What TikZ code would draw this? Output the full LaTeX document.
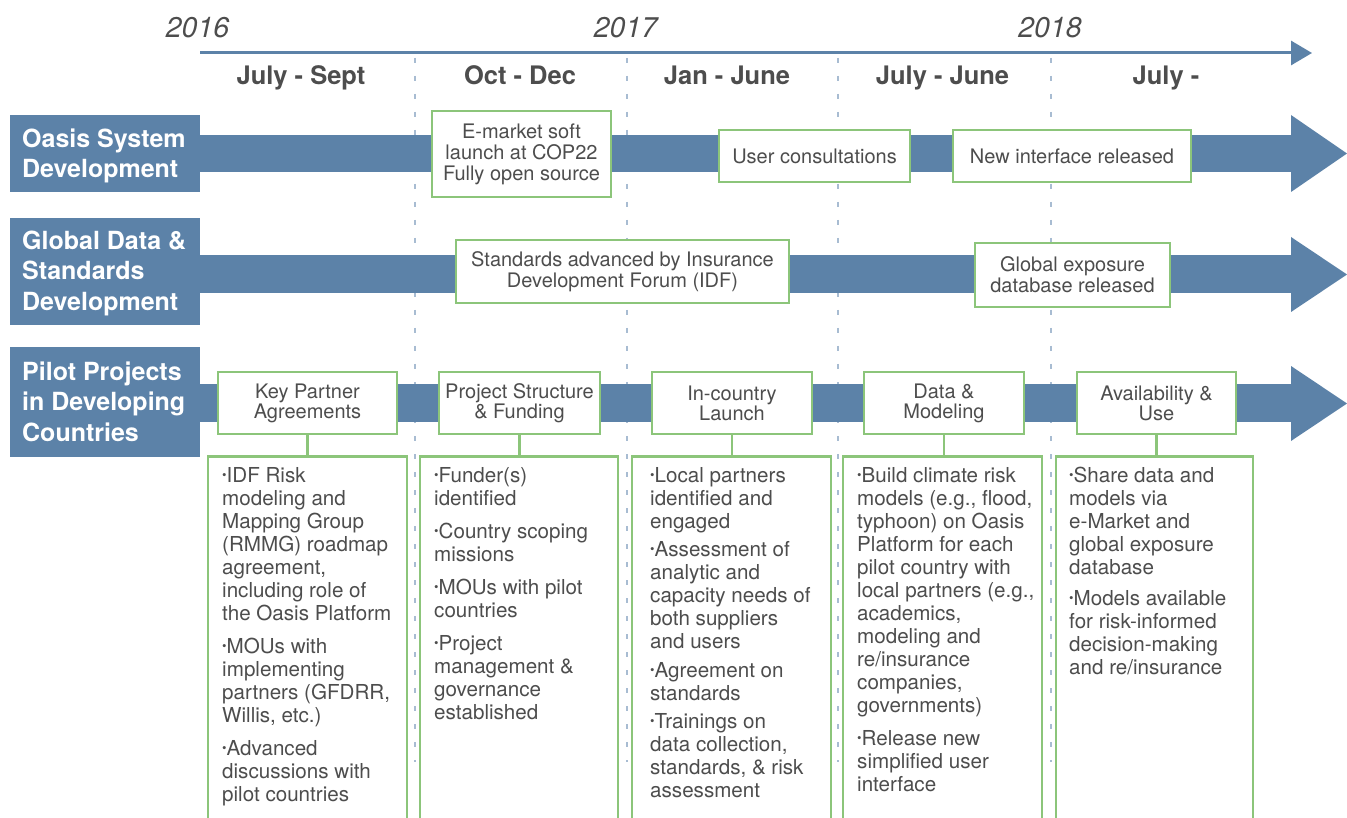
\documentclass[tikz,border=0pt]{standalone}
\usepackage{fontspec}
\usepackage{graphicx}
\setmainfont{TeX Gyre Heros}
\usetikzlibrary{arrows.meta}
\definecolor{oblue}{RGB}{92,130,168}
\definecolor{ogreen}{RGB}{140,197,122}
\definecolor{otext}{RGB}{77,77,77}
\definecolor{odash}{RGB}{168,188,210}
\newcommand{\bul}{\raisebox{0.14em}{\scalebox{0.62}{•}}}
\begin{document}
\begin{tikzpicture}[x=1pt,y=-1pt,
  every node/.style={inner sep=0pt, text=otext},
  rowbox/.style={fill=oblue, minimum width=190pt},
  rowtext/.style={text=white, font=\fontsize{25}{30.5}\selectfont\bfseries, align=left, anchor=north west},
  quarter/.style={font=\fontsize{25.5}{30}\selectfont\bfseries, anchor=base},
  yearlbl/.style={font=\fontsize{28.5}{32}\selectfont\itshape, anchor=base},
  evbox/.style={draw=ogreen, line width=2.5pt, fill=white, align=center, font=\fontsize{20}{21}\selectfont},
  phbox/.style={draw=ogreen, line width=2.5pt, fill=white, align=center, font=\fontsize{20}{20}\selectfont, minimum height=62pt},
  detbox/.style={draw=ogreen, line width=2.5pt, fill=white, anchor=north, minimum height=420pt},
  dettext/.style={anchor=north west, align=left, font=\fontsize{20.6}{23}\selectfont},
  conn/.style={draw=ogreen, line width=2.5pt},
  qline/.style={draw=odash, line width=2pt, dash pattern=on 5pt off 13pt},
]
\useasboundingbox (0,0) rectangle (1347,818);
\fill[white] (0,0) rectangle (1347,818);

% quarter separators
\foreach \xx in {415,627,838,1051} \draw[qline] (\xx,58) -- (\xx,762);

% top timeline
\coordinate (tl0) at (200,53);
\coordinate (tl1) at (1312,53);
\draw[oblue, line width=3pt, -{Triangle[length=21pt,width=24pt]}] (tl0) -- (tl1);

% years
\node[yearlbl] (y16) at (197.5,38) {2016};
\node[yearlbl] (y17) at (625.5,38) {2017};
\node[yearlbl] (y18) at (1050,38) {2018};

% quarters
\node[quarter] (q1) at (301,85) {July - Sept};
\node[quarter] (q2) at (520,85) {Oct - Dec};
\node[quarter] (q3) at (727,85) {Jan - June};
\node[quarter] (q4) at (942.5,85) {July - June};
\node[quarter] (q5) at (1166,85) {July -};

% bands
\fill[oblue] (199,135) rectangle (1292,172);
\fill[oblue] (1291,115) -- (1347,153.5) -- (1291,192) -- cycle;
\fill[oblue] (199,255) rectangle (1292,293);
\fill[oblue] (1291,237) -- (1347,274.5) -- (1291,312) -- cycle;
\fill[oblue] (199,384) rectangle (1292,422);
\fill[oblue] (1291,366) -- (1347,403.5) -- (1291,441) -- cycle;

% row labels
\node[rowbox, minimum height=77pt] (r1) at (105,153.5) {};
\node[rowbox, minimum height=107pt] (r2) at (105,271.5) {};
\node[rowbox, minimum height=110pt] (r3) at (105,402) {};
\node[rowtext] (r1t) at (22,127) {\rule{0pt}{20pt}Oasis System\\Development};
\node[rowtext] (r2t) at (22,229) {\rule{0pt}{20pt}Global Data \&\\Standards\\Development};
\node[rowtext] (r3t) at (22,360) {\rule{0pt}{20pt}Pilot Projects\\in Developing\\Countries};

% row 1 events
\node[evbox, minimum width=179pt, minimum height=86pt] (e1) at (521.5,154) {E-market soft\\launch at COP22\\Fully open source};
\node[evbox, minimum width=191pt, minimum height=52pt] (e2) at (814.5,156) {User consultations};
\node[evbox, minimum width=238pt, minimum height=52pt] (e3) at (1072,156) {New interface released};

% row 2 events
\node[evbox, minimum width=333pt, minimum height=63pt] (e4) at (622.5,271.5) {Standards advanced by Insurance\\Development Forum (IDF)};
\node[evbox, minimum width=195pt, minimum height=64pt] (e5) at (1072.5,275) {Global exposure\\database released};

% phase boxes
\node[phbox, minimum width=179pt] (p1) at (307.5,403) {Key Partner\\Agreements};
\node[phbox, minimum width=161pt] (p2) at (519.5,403) {Project Structure\\\& Funding};
\node[phbox, minimum width=160pt] (p3) at (732,403) {In-country\\Launch};
\node[phbox, minimum width=160pt] (p4) at (944,403) {Data \&\\Modeling};
\node[phbox, minimum width=159pt] (p5) at (1156.5,403) {Availability \&\\Use};

% detail boxes
\node[detbox, minimum width=199pt] (d1) at (307.5,455) {};
\node[detbox, minimum width=198pt] (d2) at (519,455) {};
\node[detbox, minimum width=199pt] (d3) at (731.5,455) {};
\node[detbox, minimum width=199pt] (d4) at (942.5,455) {};
\node[detbox, minimum width=197pt] (d5) at (1154.5,455) {};

% connectors
\foreach \i in {1,...,5} \draw[conn] (p\i.south) -- (p\i.south |- d\i.north);

% detail texts
\node[dettext] (t1) at (222,466) {\rule{0pt}{16pt}\bul IDF Risk\\modeling and\\Mapping Group\\(RMMG) roadmap\\agreement,\\including role of\\the Oasis Platform\\[10pt]\bul MOUs with\\implementing\\partners (GFDRR,\\Willis, etc.)\\[10pt]\bul Advanced\\discussions with\\pilot countries};
\node[dettext] (t2) at (434,466) {\rule{0pt}{16pt}\bul Funder(s)\\identified\\[10pt]\bul Country scoping\\missions\\[10pt]\bul MOUs with pilot\\countries\\[10pt]\bul Project\\management \&\\governance\\established};
\node[dettext] (t3) at (650,466) {\rule{0pt}{16pt}\bul Local partners\\identified and\\engaged\\[5pt]\bul Assessment of\\analytic and\\capacity needs of\\both suppliers\\and users\\[6pt]\bul Agreement on\\standards\\[5pt]\bul Trainings on\\data collection,\\standards, \& risk\\assessment};
\node[dettext] (t4) at (857,466) {\rule{0pt}{16pt}\bul Build climate risk\\models (e.g., flood,\\typhoon) on Oasis\\Platform for each\\pilot country with\\local partners (e.g.,\\academics,\\modeling and\\re/insurance\\companies,\\governments)\\[10pt]\bul Release new\\simplified user\\interface};
\node[dettext] (t5) at (1069,466) {\rule{0pt}{16pt}\bul Share data and\\models via\\e-Market and\\global exposure\\database\\[8pt]\bul Models available\\for risk-informed\\decision-making\\and re/insurance};
\end{tikzpicture}
\end{document}
